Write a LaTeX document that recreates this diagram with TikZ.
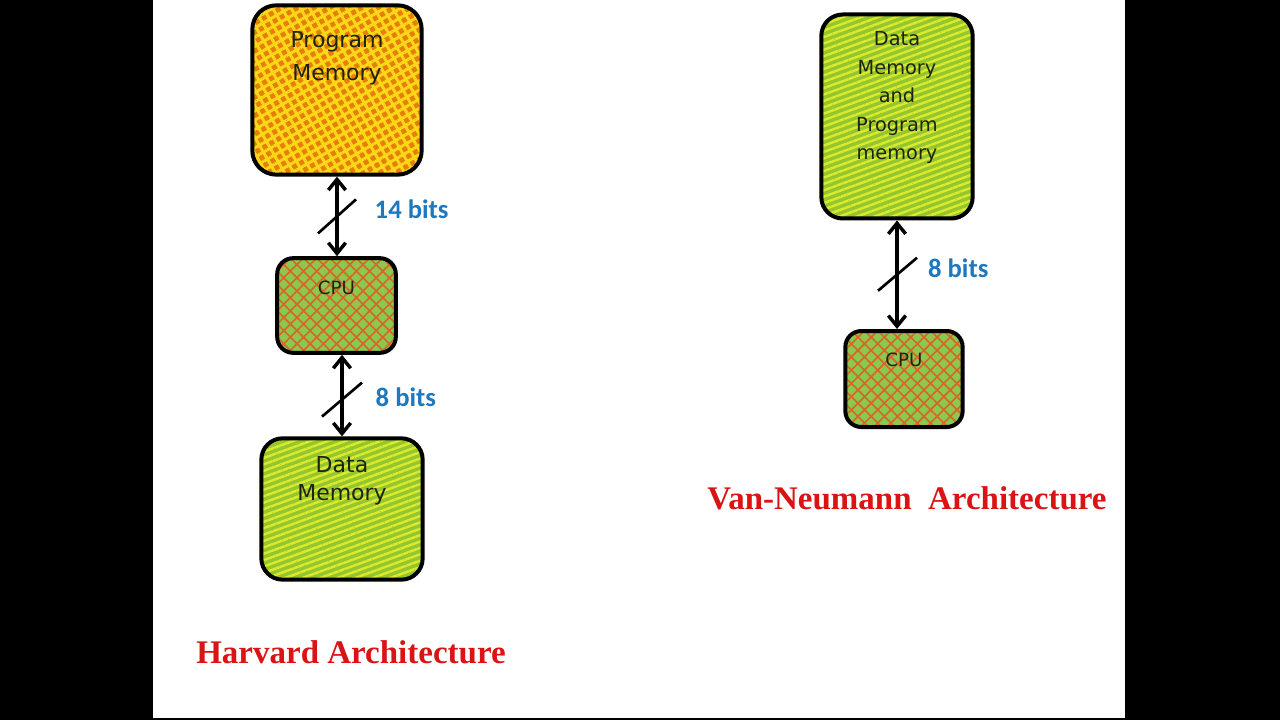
\documentclass[tikz,border=0pt]{standalone}
\usepackage{fontspec}
\setmainfont{DejaVu Sans}
\newfontfamily\titlefont{Liberation Serif}
\newfontfamily\bitsfont{Carlito}
\usetikzlibrary{arrows.meta,patterns.meta,positioning}
\definecolor{memgreen}{RGB}{150,198,45}
\definecolor{memyellow}{RGB}{218,234,45}
\definecolor{pmorange}{RGB}{228,128,8}
\definecolor{pmyellow}{RGB}{255,215,25}
\definecolor{cpugreen}{RGB}{140,200,80}
\definecolor{cpured}{RGB}{218,100,35}
\definecolor{bitsblue}{RGB}{30,120,192}
\definecolor{titlered}{RGB}{218,20,20}
\definecolor{boxtextc}{RGB}{30,35,20}

\begin{document}
\begin{tikzpicture}[x=0.75pt, y=-0.75pt,
  box/.style={draw=black, line width=3pt, rounded corners=16pt},
  progmem/.style={box, preaction={fill=pmorange},
    preaction={pattern={Hatch[angle=30,distance=6pt,line width=2.2pt]}, pattern color=pmyellow}},
  datamem/.style={box, preaction={fill=memgreen},
    preaction={pattern={Lines[angle=20,distance=4.5pt,line width=1.8pt]}, pattern color=memyellow}},
  cpubox/.style={box, rounded corners=12pt, preaction={fill=cpugreen},
    preaction={pattern={Hatch[angle=45,distance=7pt,line width=1.2pt]}, pattern color=cpured}},
  boxtext/.style={inner sep=0pt, align=center, text=boxtextc},
  arrow/.style={{Straight Barb[length=8pt,width=13pt]}-{Straight Barb[length=8pt,width=13pt]}, line width=2.6pt},
  slash/.style={line width=2pt},
  bits/.style={inner sep=0pt, text=bitsblue, font=\bitsfont\bfseries\fontsize{20pt}{24pt}\selectfont},
  archtitle/.style={text=titlered, font=\titlefont\bfseries\fontsize{24.75pt}{30pt}\selectfont}
]
  \fill[black] (0,0) rectangle (1280,720);
  \fill[white] (153,0) rectangle (1125,718);

  \node[progmem, rounded corners=18pt, minimum width=127pt, minimum height=127pt,
        label={[boxtext, yshift=24pt, font=\fontsize{16.5pt}{25pt}\selectfont]center:Program\\Memory}]
        (pm) at (337,90) {};
  \node[cpubox, minimum width=89pt, minimum height=71pt,
        label={[boxtext, yshift=13.5pt, font=\fontsize{13.7pt}{16pt}\selectfont]center:CPU}]
        (cpu1) at (336.5,305.5) {};
  \node[datamem, minimum width=121pt, minimum height=106pt,
        label={[boxtext, yshift=21pt, font=\fontsize{16.5pt}{21pt}\selectfont]center:Data\\Memory}]
        (dm) at (342,509) {};

  \node[datamem, minimum width=113.5pt, minimum height=153pt,
        label={[boxtext, yshift=14pt, font=\fontsize{14.5pt}{21.4pt}\selectfont]center:Data\\Memory\\and\\Program\\memory}]
        (vnm) at (897,116.5) {};
  \node[cpubox, minimum width=88pt, minimum height=72pt,
        label={[boxtext, yshift=14pt, font=\fontsize{13.7pt}{16pt}\selectfont]center:CPU}]
        (cpu2) at (904,379) {};

  \draw[arrow] (pm.south) -- (cpu1.north -| pm.south) coordinate[midway] (m1)
    node[bits, midway, right=27pt, yshift=5.5pt] {14 bits};
  \draw[slash] ([shift={(-19,17)}]m1) -- ([shift={(19,-17)}]m1);

  \draw[arrow] (cpu1.south -| dm.north) -- (dm.north) coordinate[midway] (m2)
    node[bits, midway, right=24pt, yshift=-1pt] {8 bits};
  \draw[slash] ([shift={(-20,21)}]m2) -- ([shift={(20,-13)}]m2);

  \draw[arrow] (vnm.south) -- (cpu2.north -| vnm.south) coordinate[midway] (m3)
    node[bits, midway, right=22pt, yshift=5pt] {8 bits};
  \draw[slash] ([shift={(-19,16)}]m3) -- ([shift={(20,-17)}]m3);

  \node[archtitle] (harv) at (351,652) {Harvard Architecture};
  \node[archtitle] (vn) at (907,498) {Van-Neumann\ \ Architecture};
\end{tikzpicture}
\end{document}
